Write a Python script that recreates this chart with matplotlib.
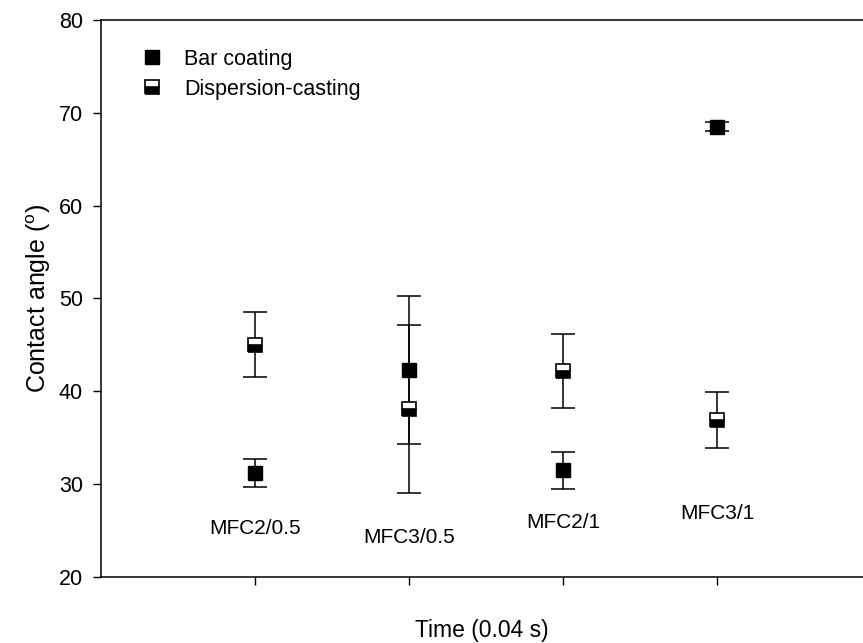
import matplotlib.pyplot as plt
from matplotlib.lines import Line2D

plt.rcParams["font.family"] = ["Liberation Sans", "DejaVu Sans"]
plt.rcParams["mathtext.fontset"] = "custom"
plt.rcParams["mathtext.rm"] = "Liberation Sans"

# categories and their positions on the time axis
categories = ["MFC2/0.5", "MFC3/0.5", "MFC2/1", "MFC3/1"]
positions = [1, 2, 3, 4]
label_y = [25.2, 24.3, 25.9, 26.8]

# contact angle values (degrees) with standard deviation
bar_coating = [31.2, 42.3, 31.5, 68.5]
bar_coating_err = [1.5, 8.0, 2.0, 0.5]
dispersion = [45.0, 38.1, 42.2, 36.9]
dispersion_err = [3.5, 9.0, 4.0, 3.0]

fig = plt.figure(figsize=(8.63, 6.43), dpi=100)
ax = fig.add_axes([101 / 863, 66 / 643, 770 / 863, 557 / 643])

err_style = dict(fmt="none", ecolor="black", elinewidth=1.1, capsize=8.5, capthick=1.1)
ax.errorbar(positions, bar_coating, yerr=bar_coating_err, **err_style)
ax.errorbar(positions, dispersion, yerr=dispersion_err, **err_style)

ax.plot(positions, bar_coating, "s", color="black", markersize=9.5, linestyle="none", zorder=3)
ax.plot(positions, dispersion, "s", linestyle="none", markersize=9.5, markeredgecolor="black",
        markerfacecolor="black", markerfacecoloralt="white", fillstyle="bottom", markeredgewidth=1.2,
        zorder=3)

for pos, name, y in zip(positions, categories, label_y):
    ax.text(pos, y, name, ha="center", va="center", fontsize=15)

ax.set_xlim(0, 5)
ax.set_ylim(20, 80)
ax.set_yticks([20, 30, 40, 50, 60, 70, 80])
ax.set_xticks(positions)
ax.set_xticklabels([])
ax.tick_params(direction="out", length=6, width=1.0, labelsize=15.5, pad=7)
ax.spines["right"].set_visible(False)
for side in ["left", "top", "bottom"]:
    ax.spines[side].set_linewidth(1.1)

ax.set_ylabel("Contact angle ($^{\\mathrm{o}}$)", fontsize=18)
ax.yaxis.set_label_coords(-0.062, 0.5)
ax.set_xlabel("Time (0.04 s)", fontsize=16.5)
ax.xaxis.set_label_coords(0.495, -0.076)

handles = [
    Line2D([], [], marker="s", color="black", linestyle="none", markersize=9.5),
    Line2D([], [], marker="s", linestyle="none", markersize=9.5, markeredgecolor="black",
           markerfacecolor="black", markerfacecoloralt="white", fillstyle="bottom",
           markeredgewidth=1.2),
]
ax.legend(handles, ["Bar coating", "Dispersion-casting"], loc="upper left", frameon=False,
          fontsize=15.5, bbox_to_anchor=(0.03, 0.975), handlelength=1.2, handletextpad=0.9,
          labelspacing=0.4, borderaxespad=0.3)

fig.savefig("out.png", dpi=100)
